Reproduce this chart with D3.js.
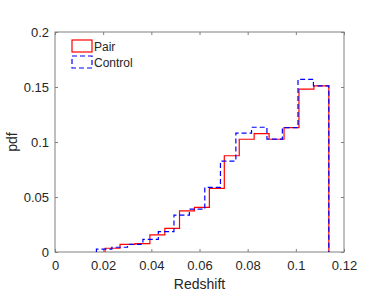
<!DOCTYPE html>
<html>
<head>
<meta charset="utf-8">
<script src="https://cdn.jsdelivr.net/npm/d3@7"></script>
<style>
  body { margin: 0; background: #fff; }
  svg { display: block; }
  text { font-family: "Liberation Sans", Arial, sans-serif; fill: #262626; }
</style>
</head>
<body>
<svg id="chart"></svg>
<script>
// bin edges and heights
const pairEdges = [0.0208, 0.0270, 0.0332, 0.0394, 0.0456, 0.0517, 0.0579, 0.0641,
                   0.0703, 0.0765, 0.0827, 0.0889, 0.0951, 0.1013, 0.1075, 0.1137];
const pairValues = [0.0034, 0.0070, 0.0077, 0.0155, 0.0215, 0.0373, 0.0405, 0.0579,
                    0.0875, 0.1025, 0.1077, 0.1025, 0.1130, 0.1480, 0.1510];
const controlEdges = [0.0172, 0.0236, 0.0301, 0.0365, 0.0429, 0.0494, 0.0558, 0.0622,
                      0.0687, 0.0751, 0.0816, 0.0880, 0.0944, 0.1009, 0.1073, 0.1137];
const controlValues = [0.0027, 0.0043, 0.0070, 0.0115, 0.0185, 0.0336, 0.0390, 0.0588,
                       0.0827, 0.1080, 0.1134, 0.1027, 0.1130, 0.1570, 0.1510];
const xTicks = [0, 0.02, 0.04, 0.06, 0.08, 0.1, 0.12];
const yTicks = [0, 0.05, 0.1, 0.15, 0.2];
const seriesNames = ["Pair", "Control"];

const width = 382, height = 305;
const margin = { top: 32, right: 38, bottom: 53, left: 55 };

const svg = d3.select("#chart")
    .attr("width", width)
    .attr("height", height);

const x = d3.scaleLinear()
    .domain([0, 0.12])
    .range([margin.left, width - margin.right]);

const y = d3.scaleLinear()
    .domain([0, 0.2])
    .range([height - margin.bottom, margin.top]);

const axisColor = "#808080";
const tickLen = 3;

function styleAxis(g) {
    g.select(".domain").remove();
    g.selectAll(".tick line").attr("stroke", axisColor);
    g.selectAll(".tick text").attr("fill", "#262626")
        .style("font-family", '"Liberation Sans", Arial, sans-serif')
        .style("font-size", "13px");
}

svg.append("g")
    .attr("transform", `translate(0,${y(0)})`)
    .call(d3.axisBottom(x).tickValues(xTicks).tickSize(-tickLen).tickPadding(9).tickFormat(d => String(d)))
    .call(styleAxis);

svg.append("g")
    .attr("transform", `translate(0,${y(0.2)})`)
    .call(d3.axisTop(x).tickValues(xTicks).tickSize(-tickLen).tickFormat(""))
    .call(styleAxis);

svg.append("g")
    .attr("transform", `translate(${x(0)},0)`)
    .call(d3.axisLeft(y).tickValues(yTicks).tickSize(-tickLen).tickPadding(6).tickFormat(d => String(d)))
    .call(styleAxis);

svg.append("g")
    .attr("transform", `translate(${x(0.12)},0)`)
    .call(d3.axisRight(y).tickValues(yTicks).tickSize(-tickLen).tickFormat(""))
    .call(styleAxis);

// box
svg.append("rect")
    .attr("x", x(0))
    .attr("y", y(0.2))
    .attr("width", x(0.12) - x(0))
    .attr("height", y(0) - y(0.2))
    .attr("fill", "none")
    .attr("stroke", axisColor)
    .attr("stroke-width", 1);

function stairPoints(edges, values) {
    const pts = [[edges[0], 0]];
    values.forEach((v, i) => {
        pts.push([edges[i], v]);
        pts.push([edges[i + 1], v]);
    });
    pts.push([edges[edges.length - 1], 0]);
    return pts;
}

const line = d3.line().x(d => x(d[0])).y(d => y(d[1]));

svg.append("path")
    .attr("d", line(stairPoints(pairEdges, pairValues)))
    .attr("fill", "none")
    .attr("stroke", "#ff0000")
    .attr("stroke-width", 1.2);

svg.append("path")
    .attr("d", line(stairPoints(controlEdges, controlValues)))
    .attr("fill", "none")
    .attr("stroke", "#0000ff")
    .attr("stroke-width", 1.2)
    .attr("stroke-dasharray", "5,3");

// legend
const legend = svg.append("g");
const legendStyles = [
    { color: "#ff0000", dash: null },
    { color: "#0000ff", dash: "5,3" }
];
seriesNames.forEach((name, i) => {
    const top = 40 + i * 16;
    legend.append("rect")
        .attr("x", 72).attr("y", top)
        .attr("width", 20).attr("height", 12)
        .attr("fill", "none")
        .attr("stroke", legendStyles[i].color)
        .attr("stroke-width", 1.2)
        .attr("stroke-dasharray", legendStyles[i].dash);
    legend.append("text")
        .attr("x", 94).attr("y", top + 10.5)
        .style("font-size", "12px")
        .text(name);
});

svg.append("text")
    .attr("x", (x(0) + x(0.12)) / 2)
    .attr("y", 289)
    .attr("text-anchor", "middle")
    .style("font-size", "14px")
    .text("Redshift");

svg.append("text")
    .attr("transform", `translate(17,${(y(0) + y(0.2)) / 2}) rotate(-90)`)
    .attr("text-anchor", "middle")
    .style("font-size", "14px")
    .text("pdf");
</script>
</body>
</html>
